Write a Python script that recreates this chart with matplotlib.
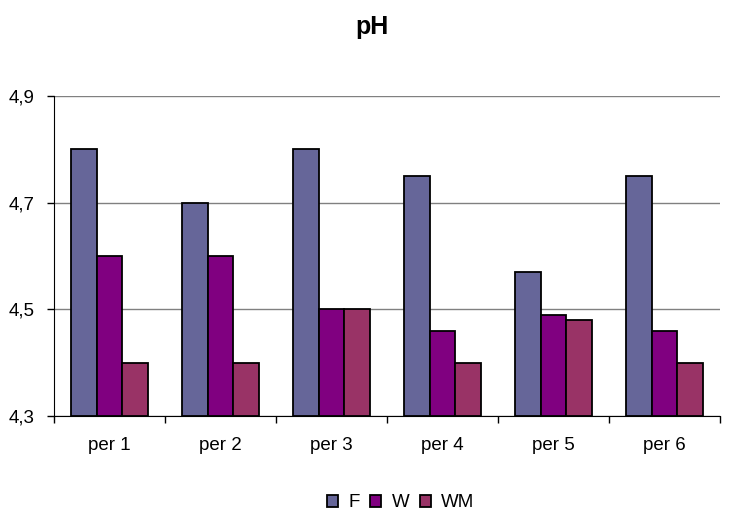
import numpy as np
import matplotlib.pyplot as plt
from matplotlib.ticker import FixedLocator, FuncFormatter

plt.rcParams['font.family'] = ['Liberation Sans', 'DejaVu Sans']

categories = ['per 1', 'per 2', 'per 3', 'per 4', 'per 5', 'per 6']
f_vals = [4.80, 4.70, 4.80, 4.75, 4.57, 4.75]
w_vals = [4.60, 4.60, 4.50, 4.46, 4.49, 4.46]
wm_vals = [4.40, 4.40, 4.50, 4.40, 4.48, 4.40]
series_names = ['F', 'W', 'WM']
series_colors = ['#666699', '#800080', '#993366']

fig = plt.figure(figsize=(7.34, 5.12), dpi=100)
ax = fig.add_axes([0.0736, 0.1875, 0.9074, 0.625])

x = np.arange(len(categories))
bw = 0.23
base = 4.3
for i, (vals, name, col) in enumerate(zip([f_vals, w_vals, wm_vals], series_names, series_colors)):
    heights = np.array(vals) - base
    ax.bar(x + (i - 1) * bw, heights, bw, bottom=base, color=col,
           edgecolor='black', linewidth=1.3, label=name, zorder=3)

ax.set_xlim(-0.5, len(categories) - 0.5)
ax.set_ylim(4.3, 4.9)
ax.set_yticks([4.3, 4.5, 4.7, 4.9])
ax.yaxis.set_major_formatter(FuncFormatter(lambda v, p: f'{v:.1f}'.replace('.', ',')))
ax.yaxis.grid(True, color='#808080', linewidth=1.0, zorder=0)

# category labels centered, tick marks between categories
ax.set_xticks(x)
ax.set_xticklabels(categories, fontsize=13.5)
ax.tick_params(axis='x', length=0, pad=15)
ax.xaxis.set_minor_locator(FixedLocator(np.arange(-0.5, len(categories), 1.0)))
ax.tick_params(axis='x', which='minor', length=5, color='black', width=1)
ax.tick_params(axis='y', length=5, labelsize=13.5, color='black', width=1, pad=9)

for s in ['top', 'right']:
    ax.spines[s].set_visible(False)
ax.spines['left'].set_color('black')
ax.spines['bottom'].set_color('black')

fig.text(0.507, 0.947, 'pH', ha='center', va='center', fontsize=18, fontweight='bold')

fig.legend(*ax.get_legend_handles_labels(), loc='center', bbox_to_anchor=(0.546, 0.018),
           ncol=3, frameon=False, fontsize=13.5, handlelength=0.6, handleheight=0.6,
           handletextpad=0.55, columnspacing=0.55, borderpad=0.0)

fig.savefig('out.png', dpi=100)
